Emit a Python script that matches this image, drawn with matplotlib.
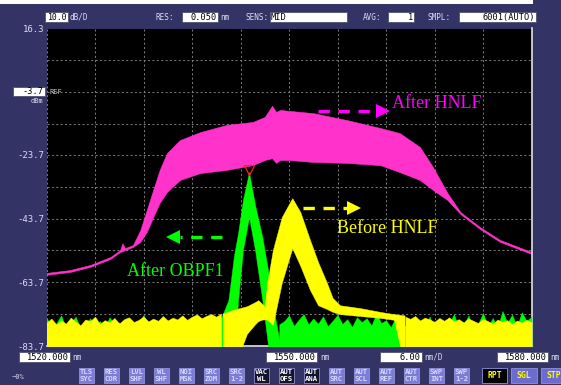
import matplotlib.pyplot as plt
from matplotlib.patches import Rectangle

W, H = 561, 385

# ---- traces (wavelength in nm, level in dBm) ----
# After HNLF: broad spectrum, max/min envelope
hnlf_nm = [1520.0, 1522.9, 1525.4, 1527.9, 1529.1, 1529.4, 1529.7, 1530.7, 1531.6, 1532.4,
           1533.2, 1534.0, 1534.9, 1536.5, 1539.0, 1542.3, 1545.5, 1547.0, 1547.9, 1548.4,
           1548.9, 1550.1, 1553.0, 1557.2, 1561.3, 1563.7, 1566.2, 1567.8, 1569.6, 1571.2,
           1573.6, 1576.1, 1580.0]
hnlf_hi = [-60.8, -59.9, -58.3, -55.8, -53.6, -51.4, -53.0, -52.0, -47.3, -41.0,
           -34.6, -28.3, -23.0, -18.9, -16.4, -14.1, -13.2, -11.6, -8.1, -10.0,
           -9.4, -9.7, -10.4, -12.6, -15.1, -16.7, -21.1, -27.4, -35.6, -41.6,
           -46.3, -50.4, -54.2]
hnlf_lo = [-61.4, -60.5, -58.9, -56.4, -54.2, -54.0, -53.6, -52.6, -51.0, -47.9,
           -43.2, -38.7, -35.3, -31.5, -29.3, -28.3, -26.8, -25.2, -24.6, -26.1,
           -25.2, -25.2, -25.8, -26.1, -26.8, -29.0, -31.5, -34.6, -37.8, -42.2,
           -46.9, -51.0, -54.8]

# After OBPF1: filtered peak
obpf_nm = [1541.5, 1542.5, 1543.2, 1543.7, 1544.3, 1545.05, 1545.8, 1546.7, 1547.4, 1547.9, 1548.9]
obpf_hi = [-75.7, -69.4, -55.2, -48.2, -37.8, -29.0, -39.4, -49.5, -59.9, -69.4, -83.5]
obpf_lo = [-90.0, -90.0, -90.0, -69.4, -53.6, -43.2, -53.6, -69.4, -83.5, -90.0, -90.0]

# Before HNLF: seed peak and its tail
yel_nm = [1541.8, 1543.3, 1544.8, 1545.8, 1546.2, 1546.7, 1547.0, 1547.3, 1548.0, 1549.1,
          1550.4, 1551.4, 1552.6, 1553.6, 1554.7, 1555.4, 1556.3, 1558.8, 1561.3, 1563.0, 1564.3]
yel_hi = [-73.6, -72.3, -71.3, -70.0, -69.4, -70.6, -71.3, -64.0, -53.6, -43.2,
          -37.2, -41.6, -50.4, -57.4, -64.0, -68.7, -71.0, -71.9, -73.1, -73.8, -74.2]
yel_lo = [-90.0, -90.0, -80.0, -77.0, -76.0, -75.5, -75.5, -75.5, -77.2, -64.0,
          -53.0, -58.6, -66.2, -71.0, -72.2, -73.1, -73.8, -74.4, -75.0, -75.6, -90.0]

# noise floor, left side (both traces)
left_nm = [1520.0, 1520.6, 1521.2, 1521.8, 1522.4, 1523.0, 1523.6, 1524.2, 1524.8, 1525.4,
           1526.0, 1526.6, 1527.2, 1527.8, 1528.4, 1529.0, 1529.6, 1530.2, 1530.8, 1531.4,
           1532.0, 1532.6, 1533.2, 1533.8, 1534.4, 1535.0, 1535.6, 1536.2, 1536.8, 1537.4,
           1538.0, 1538.6, 1539.2, 1539.8, 1540.4, 1541.0, 1541.6]
yel_left = [-76.5, -75.2, -77.0, -75.8, -76.8, -74.9, -76.2, -77.3, -75.5, -76.0,
            -74.6, -76.9, -75.7, -76.4, -75.0, -76.8, -75.4, -74.8, -76.3, -75.6,
            -74.5, -76.1, -75.2, -75.9, -74.4, -75.8, -74.9, -75.5, -74.2, -75.6,
            -74.6, -73.9, -75.1, -74.3, -73.8, -74.6, -73.6]
grn_left = [-75.0, -77.5, -76.8, -74.2, -78.0, -76.5, -74.6, -78.2, -77.0, -75.1,
            -77.6, -76.0, -78.1, -74.8, -77.2, -76.4, -78.0, -75.6, -77.5, -76.8,
            -74.1, -77.9, -76.5, -77.8, -75.3, -78.2, -77.0, -76.1, -78.3, -77.1,
            -75.9, -78.0, -77.2, -76.4, -78.5, -77.0, -79.0]

# noise floor, right side
grn_r_nm = [1548.8, 1549.4, 1550.0, 1550.6, 1551.2, 1551.8, 1552.4, 1553.0, 1553.6, 1554.2,
            1554.8, 1555.4, 1556.0, 1556.6, 1557.2, 1557.8, 1558.4, 1559.0, 1559.6, 1560.2,
            1560.8, 1561.4, 1562.0, 1562.6, 1563.2, 1563.8, 1564.4, 1565.0, 1565.6, 1566.2,
            1566.8, 1567.4, 1568.0, 1568.6, 1569.2, 1569.8, 1570.4, 1571.0, 1571.6, 1572.2,
            1572.8, 1573.4, 1574.0, 1574.6, 1575.2, 1575.8, 1576.4, 1577.0, 1577.6, 1578.2,
            1578.8, 1579.4, 1580.0]
grn_right = [-77.0, -76.0, -74.2, -77.5, -75.6, -73.8, -77.0, -75.2, -76.8, -74.5,
             -77.6, -75.9, -74.0, -76.9, -75.4, -77.8, -74.8, -76.3, -75.1, -77.4,
             -73.6, -76.6, -75.7, -77.9, -74.7, -76.8, -77.5, -78.0, -76.2, -79.0,
             -77.4, -74.6, -78.5, -77.0, -79.2, -76.8, -73.8, -78.0, -77.2, -74.2,
             -78.6, -76.9, -73.4, -77.8, -75.0, -78.2, -72.8, -76.5, -74.0, -77.6,
             -73.2, -76.0, -74.5]
yel_r_nm = [1564.4, 1565.0, 1565.6, 1566.2, 1566.8, 1567.4, 1568.0, 1568.6, 1569.2, 1569.8,
            1570.4, 1571.0, 1571.6, 1572.2, 1572.8, 1573.4, 1574.0, 1574.6, 1575.2, 1575.8,
            1576.4, 1577.0, 1577.6, 1578.2, 1578.8, 1579.4, 1580.0]
yel_right = [-74.6, -75.3, -74.4, -75.8, -74.9, -75.5, -76.2, -75.0, -75.9, -74.8,
             -76.1, -75.4, -76.4, -75.2, -75.9, -76.6, -75.3, -76.0, -76.8, -75.5,
             -76.3, -75.7, -77.0, -75.8, -76.5, -75.6, -76.4]

xticks = [1520, 1526, 1532, 1538, 1544, 1550, 1556, 1562, 1568, 1574, 1580]
yticks = [16.3, 6.3, -3.7, -13.7, -23.7, -33.7, -43.7, -53.7, -63.7, -73.7, -83.7]

PINK = '#ff33cc'
GRN = '#00ff00'
YEL = '#ffff00'
NAVY = '#333366'
UI = 'DejaVu Sans Mono'
LIGHT = '#dcdcf4'

fig = plt.figure(figsize=(W / 100, H / 100), dpi=100)
fig.patch.set_facecolor(NAVY)


def fx(x):
    return x / W


def fy(y):
    return 1 - y / H


ax = fig.add_axes([fx(46.5), fy(345.5), 485 / W, 317 / H])
ax.set_facecolor('black')
ax.set_xlim(1520, 1580)
ax.set_ylim(-83.7, 16.3)
ax.set_xticks(xticks)
ax.set_yticks(yticks)
ax.tick_params(length=0, labelbottom=False, labelleft=False)
ax.set_axisbelow(True)
ax.grid(color='#808080', ls=(0, (2, 2.5)), lw=0.7)
for s in ['top', 'left']:
    ax.spines[s].set_visible(False)
for s in ['right', 'bottom']:
    ax.spines[s].set_color('#e0e0e8')
    ax.spines[s].set_linewidth(1.2)

ax.fill_between(hnlf_nm, hnlf_lo, hnlf_hi, color=PINK, lw=0.4, zorder=2)
ax.fill_between(left_nm, -90, grn_left, color=GRN, lw=0.3, zorder=3)
ax.fill_between(grn_r_nm, -90, grn_right, color=GRN, lw=0.3, zorder=3)
ax.fill_between(obpf_nm, obpf_lo, obpf_hi, color=GRN, lw=0.3, zorder=3)
ax.fill_between(left_nm, -90, yel_left, color=YEL, lw=0.3, zorder=4)
ax.fill_between(yel_nm, yel_lo, yel_hi, color=YEL, lw=0.3, zorder=4)
ax.fill_between(yel_r_nm, -90, yel_right, color=YEL, lw=0.3, zorder=4)

# peak marker
ax.plot([obpf_nm[5]], [obpf_hi[5] + 0.6], marker='v', ms=7, mfc='none', mec='#ff2020', mew=0.9, zorder=6)

# labels with dashed arrows
def arrow(x0, x1, xh, y, color, m):
    ax.plot([x0, x1], [y, y], color=color, lw=2.4, ls=(0, (3.4, 2.6)), solid_capstyle='butt', zorder=6)
    ax.plot([xh], [y], marker=m, ms=9.5, color=color, mew=0, zorder=6)

arrow(1553.6, 1560.9, 1561.57, -9.7, '#ff00ff', '>')
ax.text(1562.8, -7.4, 'After HNLF', color='#ff00ff', fontsize=13, family='Liberation Serif', va='center', zorder=6)
arrow(1551.7, 1557.2, 1557.98, -40.3, YEL, '>')
ax.text(1555.9, -46.8, 'Before HNLF', color=YEL, fontsize=13, family='Liberation Serif', va='center', zorder=6)
arrow(1541.7, 1536.5, 1535.59, -49.5, GRN, '<')
ax.text(1530.0, -60.2, 'After OBPF1', color=GRN, fontsize=13, family='Liberation Serif', va='center', zorder=6)

# ---- instrument frame ----
fig.add_artist(Rectangle((0, fy(4)), 533 / W, 4 / H, transform=fig.transFigure,
                         facecolor='white', edgecolor='none'))


def box(x0, x1, y0, y1, s, ha='right', fc='white', tc='black', size=6.2, ec='#505070'):
    fig.add_artist(Rectangle((fx(x0), fy(y1)), (x1 - x0) / W, (y1 - y0) / H,
                             transform=fig.transFigure, facecolor=fc, edgecolor=ec, lw=0.6))
    if ha == 'right':
        tx = x1 - 1.0
    elif ha == 'left':
        tx = x0 + 1.0
    else:
        tx = (x0 + x1) / 2
    fig.text(fx(tx), fy((y0 + y1) / 2 + 0.3), s, ha=ha, va='center', color=tc, fontsize=size, family=UI)


def label(x, y, s, ha='left', size=5.5, color=LIGHT):
    fig.text(fx(x), fy(y), s, ha=ha, va='center', color=color, fontsize=size, family=UI)


# header
box(45, 68, 12, 22, '10.0', size=5.9)
label(70, 17, 'dB/D')
label(155, 17, 'RES:')
box(182, 218, 12, 22, '0.050')
label(220, 17, 'nm')
label(246, 17, 'SENS:')
box(270, 347, 12, 22, 'MID', ha='left')
label(363, 17, 'AVG:')
box(388, 414, 12, 22, '1')
label(428, 17, 'SMPL:')
box(459, 536, 12, 22, '6001(AUTO)')

# level scale
for val, yy in [('16.3', 29), ('-23.7', 156), ('-43.7', 219.5), ('-63.7', 283), ('-83.7', 347)]:
    label(44, yy, val, ha='right', size=6.5)
box(13, 45, 87, 96, '-3.7')
label(43, 101, 'dBm', ha='right', size=5)
label(49, 91.5, 'REF', size=5, color='#c8c8c8')

# wavelength row
box(19, 70, 352, 362, '1520.000')
label(72, 357, 'nm')
box(266, 317, 352, 362, '1550.000')
label(320, 357, 'nm')
box(380, 422, 352, 362, '6.00')
label(424, 357, 'nm/D')
box(497, 548, 352, 362, '1580.000')
label(550, 357, 'nm')

# soft keys
label(12, 377, '~0%', size=5)
keys = [('TLS', 'SYC'), ('RES', 'COR'), ('LVL', 'SHF'), ('WL', 'SHF'), ('NOI', 'MSK'),
        ('SRC', 'ZOM'), ('SRC', '1-2'), ('VAC', 'WL'), ('AUT', 'OFS'), ('AUT', 'ANA'),
        ('AUT', 'SRC'), ('AUT', 'SCL'), ('AUT', 'REF'), ('AUT', 'CTR'), ('SWP', 'INT'),
        ('SWP', '1-2')]
dark = {7, 8, 9}
for i, (a, b) in enumerate(keys):
    x0 = 79 + 25 * i
    fc = '#14142e' if i in dark else '#7c7cd8'
    tc = 'white' if i in dark else '#d4d8ff'
    fig.add_artist(Rectangle((fx(x0), fy(383)), 15 / W, 15 / H, transform=fig.transFigure,
                             facecolor=fc, edgecolor='#a0a0e8', lw=0.5))
    fig.text(fx(x0 + 7.5), fy(372.3), a, ha='center', va='center', color=tc, fontsize=5.2,
             family=UI, weight='bold')
    fig.text(fx(x0 + 7.5), fy(379), b, ha='center', va='center', color=tc, fontsize=5.2,
             family=UI, weight='bold')

for x0, x1, s, fc in [(482, 507, 'RPT', '#000000'), (511, 537, 'SGL', '#6c6cd0'), (541, 566, 'STP', '#6c6cd0')]:
    fig.add_artist(Rectangle((fx(x0), fy(383)), (x1 - x0) / W, 15 / H, transform=fig.transFigure,
                             facecolor=fc, edgecolor='#9090e0', lw=0.6))
    fig.text(fx((x0 + x1) / 2), fy(375.5), s, ha='center', va='center', color=YEL, fontsize=5.8,
             family=UI, weight='bold')

fig.savefig('out.png', dpi=100, facecolor=fig.get_facecolor())
